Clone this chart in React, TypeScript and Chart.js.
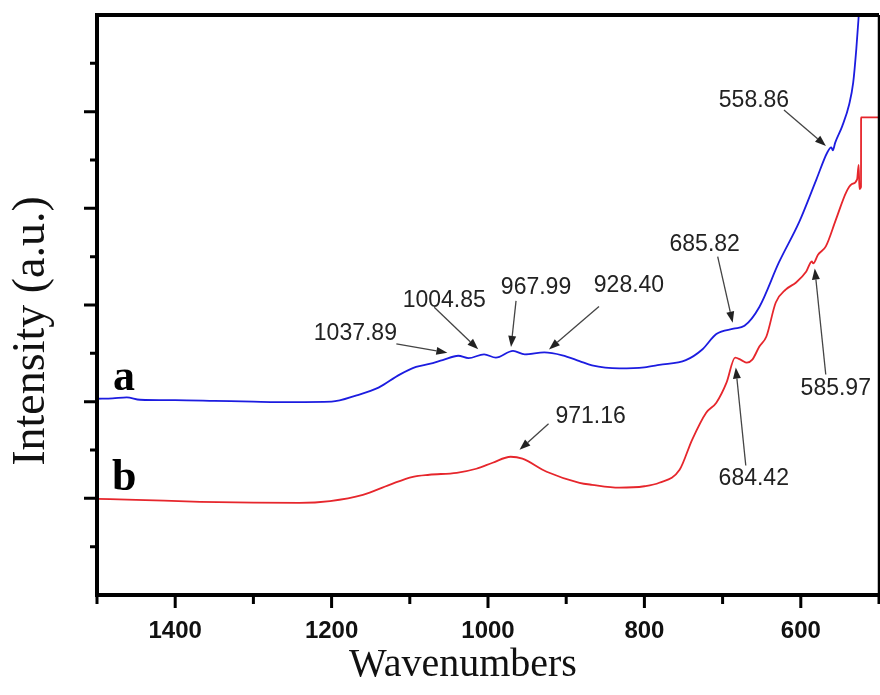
import React, { useEffect, useRef } from 'react';
import { Chart, registerables } from 'chart.js';

Chart.register(...registerables);

// ---- data ----
const waveA = [1500, 1480, 1462, 1445, 1400, 1350, 1300, 1250, 1200, 1168, 1140, 1113, 1092, 1075, 1058, 1038, 1025, 1005, 990, 968, 953, 928, 905, 883, 867, 832, 800, 781, 747, 726, 708, 686, 672, 653, 628, 602, 580, 566, 561, 559, 556, 547, 538, 533, 529, 525];
const intensityA = [2.03, 2.035, 2.045, 2.02, 2.015, 2.008, 2.0, 1.995, 2.0, 2.065, 2.145, 2.28, 2.36, 2.39, 2.43, 2.475, 2.45, 2.49, 2.455, 2.525, 2.49, 2.51, 2.48, 2.42, 2.375, 2.345, 2.355, 2.38, 2.43, 2.54, 2.7, 2.755, 2.785, 2.98, 3.44, 3.86, 4.3, 4.58, 4.63, 4.6, 4.68, 4.85, 5.08, 5.3, 5.65, 6.1];

const waveB = [1500, 1450, 1368, 1300, 1241, 1202, 1160, 1126, 1096, 1075, 1040, 1015, 994, 971, 956, 925, 883, 867, 832, 800, 781, 755, 739, 721, 708, 695, 684, 676, 669, 662, 653, 644, 632, 619, 606, 593, 586, 584, 578, 568, 555, 542, 535, 528, 526, 525, 523, 522.9, 500];
const intensityB = [0.995, 0.985, 0.964, 0.955, 0.953, 0.972, 1.036, 1.14, 1.223, 1.244, 1.264, 1.306, 1.368, 1.43, 1.41, 1.275, 1.161, 1.14, 1.11, 1.125, 1.161, 1.295, 1.606, 1.886, 1.99, 2.197, 2.456, 2.43, 2.404, 2.435, 2.57, 2.674, 3.026, 3.161, 3.233, 3.347, 3.45, 3.43, 3.52, 3.606, 3.886, 4.166, 4.249, 4.3, 4.45, 4.2, 4.22, 4.94, 4.94];

const seriesLabels = ['a', 'b'];
const xMajorTicks = [1400, 1200, 1000, 800, 600];
const xMinorTicks = [1500, 1300, 1100, 900, 700, 500];
const yMajorTicks = [1, 2, 3, 4, 5];
const yMinorTicks = [0.5, 1.5, 2.5, 3.5, 4.5, 5.5];

const annotLabels = ['1037.89', '1004.85', '967.99', '928.40', '685.82', '558.86', '971.16', '684.42', '585.97'];
const annotWaves = [1037.89, 1004.85, 967.99, 928.4, 685.82, 558.86, 971.16, 684.42, 585.97];
const annotSeries = [0, 0, 0, 0, 0, 0, 1, 1, 1];

// ---- styles (pixel offsets relative to the annotated curve point) ----
const annotStyle = [
  { tip: [-11, -3], tail: [-62, -12], text: [-103, -22] },
  { tip: [-6, -5], tail: [-50, -47], text: [-40, -54] },
  { tip: [-2, -4], tail: [3, -50], text: [23, -63] },
  { tip: [5, -3], tail: [55, -46], text: [85, -67] },
  { tip: [-1, -6], tail: [-16, -72], text: [-29, -84] },
  { tip: [-7, -4], tail: [-49, -40], text: [-79, -49] },
  { tip: [9, -7], tail: [38, -33], text: [80, -40] },
  { tip: [1, 9], tail: [11, 107], text: [19, 120] },
  { tip: [3, 7], tail: [14, 113], text: [24, 127] },
];
const seriesLabelOffset = [[16, -9], [15, -9]];
const COLORS = ['#1c1ce0', '#e6262c'];

function interp(ws: number[], vs: number[], w: number): number {
  for (let i = 0; i < ws.length - 1; i++) {
    const a = ws[i], b = ws[i + 1];
    if ((w <= a && w >= b) || (w >= a && w <= b)) {
      if (a === b) return vs[i];
      return vs[i] + ((w - a) / (b - a)) * (vs[i + 1] - vs[i]);
    }
  }
  return vs[vs.length - 1];
}

const decorPlugin = {
  id: 'decor',
  afterDraw(chart: any) {
    const ctx = chart.ctx as CanvasRenderingContext2D;
    const ca = chart.chartArea;
    const xs = chart.scales.x;
    const ys = chart.scales.y;
    ctx.save();
    // frame
    ctx.strokeStyle = '#000';
    ctx.lineCap = 'butt';
    ctx.lineWidth = 4;
    ctx.beginPath();
    ctx.moveTo(ca.left, ca.top);
    ctx.lineTo(ca.right, ca.top);
    ctx.moveTo(ca.left, ca.top - 2);
    ctx.lineTo(ca.left, ca.bottom + 2);
    ctx.moveTo(ca.left - 2, ca.bottom);
    ctx.lineTo(ca.right, ca.bottom);
    ctx.stroke();
    ctx.lineWidth = 2.5;
    ctx.beginPath();
    ctx.moveTo(ca.right, ca.top);
    ctx.lineTo(ca.right, ca.bottom);
    ctx.stroke();
    // ticks
    ctx.lineWidth = 3;
    ctx.beginPath();
    xMajorTicks.forEach((v) => {
      const p = xs.getPixelForValue(v);
      ctx.moveTo(p, ca.bottom);
      ctx.lineTo(p, ca.bottom + 13);
    });
    xMinorTicks.forEach((v) => {
      const p = xs.getPixelForValue(v);
      ctx.moveTo(p, ca.bottom);
      ctx.lineTo(p, ca.bottom + 9);
    });
    yMajorTicks.forEach((v) => {
      const p = ys.getPixelForValue(v);
      ctx.moveTo(ca.left, p);
      ctx.lineTo(ca.left - 13, p);
    });
    yMinorTicks.forEach((v) => {
      const p = ys.getPixelForValue(v);
      ctx.moveTo(ca.left, p);
      ctx.lineTo(ca.left - 7, p);
    });
    ctx.stroke();

    // axis titles
    ctx.fillStyle = '#111';
    ctx.font = '40px "Liberation Serif", "DejaVu Serif", serif';
    ctx.textAlign = 'center';
    ctx.textBaseline = 'middle';
    ctx.fillText('Wavenumbers', ca.left + 366, ca.bottom + 70);
    ctx.save();
    ctx.translate(ca.left - 65, ca.top + 316);
    ctx.rotate(-Math.PI / 2);
    ctx.font = '46px "Liberation Serif", "DejaVu Serif", serif';
    ctx.fillText('Intensity (a.u.)', 0, 0);
    ctx.restore();

    // series labels
    const series = [
      [waveA, intensityA],
      [waveB, intensityB],
    ];
    ctx.font = 'bold 44px "Liberation Serif", "DejaVu Serif", serif';
    ctx.textAlign = 'left';
    ctx.textBaseline = 'alphabetic';
    ctx.fillStyle = '#000';
    seriesLabels.forEach((lab, i) => {
      const w = series[i][0][0];
      const px = xs.getPixelForValue(w);
      const py = ys.getPixelForValue(series[i][1][0]);
      ctx.fillText(lab, px + seriesLabelOffset[i][0], py + seriesLabelOffset[i][1]);
    });

    // annotations
    ctx.font = '23px "Liberation Sans", Arial, sans-serif';
    ctx.textAlign = 'center';
    ctx.textBaseline = 'middle';
    annotLabels.forEach((lab, i) => {
      const s = series[annotSeries[i]];
      const w = annotWaves[i];
      const px = xs.getPixelForValue(w);
      const py = ys.getPixelForValue(interp(s[0], s[1], w));
      const st = annotStyle[i];
      const tx = px + st.tip[0], ty = py + st.tip[1];
      const sx = px + st.tail[0], sy = py + st.tail[1];
      ctx.strokeStyle = '#444';
      ctx.lineWidth = 1.3;
      ctx.beginPath();
      const ang = Math.atan2(ty - sy, tx - sx);
      const hl = 11, hw = 4;
      const bx = tx - hl * Math.cos(ang), by = ty - hl * Math.sin(ang);
      ctx.moveTo(sx, sy);
      ctx.lineTo(bx, by);
      ctx.stroke();
      ctx.fillStyle = '#222';
      ctx.beginPath();
      ctx.moveTo(tx, ty);
      ctx.lineTo(bx + hw * Math.sin(ang), by - hw * Math.cos(ang));
      ctx.lineTo(bx - hw * Math.sin(ang), by + hw * Math.cos(ang));
      ctx.closePath();
      ctx.fill();
      ctx.fillStyle = '#222';
      ctx.fillText(lab, px + st.text[0], py + st.text[1]);
    });
    ctx.restore();
  },
};

export default function App() {
  const ref = useRef<HTMLCanvasElement | null>(null);
  useEffect(() => {
    if (!ref.current) return;
    const chart = new Chart(ref.current, {
      type: 'line',
      data: {
        datasets: [
          {
            label: 'a',
            data: waveA.map((w, i) => ({ x: w, y: intensityA[i] })),
            borderColor: COLORS[0],
            borderWidth: 1.8,
            pointRadius: 0,
            cubicInterpolationMode: 'monotone',
            fill: false,
          },
          {
            label: 'b',
            data: waveB.map((w, i) => ({ x: w, y: intensityB[i] })),
            borderColor: COLORS[1],
            borderWidth: 1.8,
            pointRadius: 0,
            cubicInterpolationMode: 'monotone',
            fill: false,
          },
        ],
      },
      options: {
        responsive: false,
        animation: false,
        devicePixelRatio: 1,
        layout: { padding: { left: 97, top: 15, right: 1, bottom: 0 } },
        plugins: { legend: { display: false }, tooltip: { enabled: false } },
        scales: {
          x: {
            type: 'linear',
            min: 500,
            max: 1500,
            reverse: true,
            grid: { display: false, drawTicks: false },
            border: { display: false },
            ticks: {
              padding: 22,
              color: '#111',
              font: { family: '"Liberation Sans", Arial, sans-serif', size: 24, weight: 'bold' },
              callback: (v: any) => String(v),
            },
            afterBuildTicks: (scale: any) => {
              scale.ticks = xMajorTicks.map((v) => ({ value: v }));
            },
            afterFit: (scale: any) => {
              scale.height = 100;
            },
          },
          y: { type: 'linear', min: 0, max: 6, display: false },
        },
      } as any,
      plugins: [decorPlugin],
    });
    return () => chart.destroy();
  }, []);
  return (
    <div style={{ position: 'absolute', left: 0, top: 0, width: 880, height: 695, background: '#fff' }}>
      <canvas ref={ref} width={880} height={695} style={{ display: 'block' }} />
    </div>
  );
}
